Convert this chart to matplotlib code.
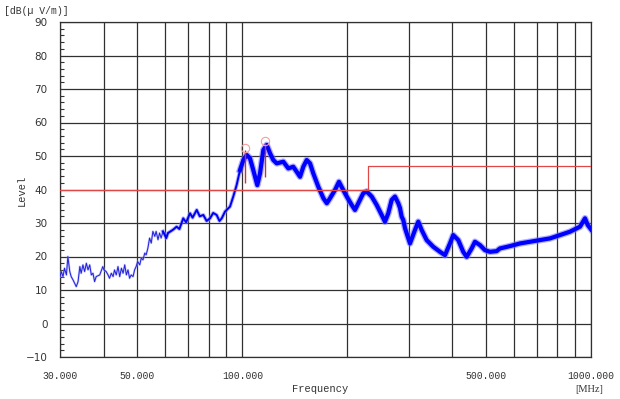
import numpy as np
import matplotlib
matplotlib.use("Agg")
import matplotlib.pyplot as plt

freq = [30.0, 30.26, 30.6, 30.9, 31.3, 31.6, 32.0, 32.3, 32.7, 33.4, 33.8, 34.2,
        34.5, 34.9, 35.3, 35.7, 36.1, 36.5, 36.9, 37.3, 37.7, 38.1, 39.0, 39.8,
        40.1, 40.7, 41.2, 41.6, 42.1, 42.6, 43.0, 43.5, 44.0, 44.5, 45.0, 45.5,
        46.0, 46.5, 47.0, 47.5, 48.0, 48.6, 49.1, 49.6, 50.1, 50.8, 51.3, 51.9,
        52.5, 53.0, 53.6, 54.2, 54.8, 55.4, 56.1, 56.6, 57.3, 57.9, 58.5, 59.2,
        59.9, 60.5, 61.2, 63.3, 64.8, 66.0, 67.7, 69.0, 70.8, 72.0, 74.0, 75.5,
        77.3, 79.0, 80.8, 82.5, 84.4, 86.0, 87.3, 89.2, 92.2, 94.2, 96.3, 98.5,
        100.7, 103.0, 105.2, 107.5, 110.4,
        112.4, 114.9, 117.5, 120.1, 122.7, 125.5, 131.1, 135.5, 140.0, 143.2,
        146.4, 149.6, 153.0, 156.4, 159.8, 165.2, 170.8, 174.7, 178.5, 184.5,
        189.3, 193.5, 199.3, 205.9, 210.4, 215.1, 222.3, 227.3, 235.0, 242.8,
        251.0, 256.5, 262.2, 268.1, 274.0, 280.1, 283.2, 286.4, 289.5, 292.8,
        296.1, 302.6, 312.7, 319.6, 326.9, 337.8, 352.9, 368.9, 381.3, 394.0,
        402.6, 416.2, 430.1, 440.0, 454.7, 464.7, 480.4, 496.4, 513.0, 536.3,
        548.0, 585.5, 625.7, 668.4, 714.0, 762.9, 815.0, 870.2, 930.0, 961.2,
        978.5, 1000.0]
level = [14.0, 15.5, 14.0, 16.5, 14.5, 20.0, 15.5, 14.0, 13.0, 11.0, 12.5, 17.0,
         15.0, 17.5, 15.5, 18.0, 16.0, 17.5, 14.5, 15.0, 12.5, 14.0, 14.5, 17.0,
         16.0, 15.5, 14.5, 13.5, 15.0, 14.0, 16.0, 14.5, 17.0, 14.0, 16.5, 15.0,
         17.5, 14.5, 16.0, 13.5, 14.5, 14.0, 16.0, 17.0, 18.5, 17.5, 19.5, 19.0,
         21.0, 20.5, 22.5, 25.5, 24.0, 27.5, 26.0, 27.5, 25.0, 27.0, 25.5, 27.5,
         26.5, 25.5, 27.0, 28.0, 28.9, 28.2, 31.4, 30.2, 32.9, 31.6, 33.9, 32.0,
         32.4, 30.6, 31.4, 33.0, 32.4, 30.6, 31.4, 33.4, 34.9, 37.9, 41.3, 45.8,
         48.8, 50.3, 49.3, 45.8, 41.3,
         44.8, 51.8, 53.3, 50.8, 48.8, 47.8, 48.3, 46.3, 46.8, 45.3,
         43.8, 46.8, 48.8, 47.8, 44.8, 40.8, 37.4, 35.9, 37.4, 39.9,
         42.3, 40.4, 37.9, 35.4, 33.9, 35.9, 38.9, 39.4, 37.9, 35.4,
         32.4, 30.4, 32.9, 36.9, 37.9, 35.9, 34.5, 31.9, 30.9, 28.5,
         26.9, 23.9, 27.9, 30.4, 27.9, 24.9, 22.9, 21.4, 20.4, 23.9,
         26.4, 24.9, 21.4, 19.9, 22.4, 24.4, 23.4, 21.9, 21.4, 21.6,
         22.4, 23.1, 23.9, 24.4, 24.9, 25.4, 26.4, 27.4, 28.9, 31.4,
         29.4, 28.1]

# limit line
lim_freq = [30, 230, 230, 1000]
lim_level = [40, 40, 47, 47]

# peak markers
mark_freq = [102.0, 116.4]
mark_top = [51.8, 53.9]
mark_bottom = [41.9, 43.7]

x_grid = [30, 40, 50, 60, 70, 80, 90, 100, 200, 300, 400, 500, 600, 700, 800, 900, 1000]
x_labels = {30: "30.000", 50: "50.000", 100: "100.000", 500: "500.000", 1000: "1000.000"}

fig = plt.figure(figsize=(6.2, 3.99), dpi=100)
ax = fig.add_axes([60/620, 1-357/399, 531/620, 335/399])

f = np.array(freq)
lv = np.array(level)

lo = f <= 61.2
mid = (f >= 59.2) & (f <= 100.7)
hi = f >= 98.5

ax.plot(f[lo], lv[lo], color="#a0a0ff", lw=1.6, alpha=0.6, zorder=3)
ax.plot(f[lo], lv[lo], color="#2020d8", lw=0.7, zorder=4)
ax.plot(f[mid], lv[mid], color="#8080ff", lw=2.8, alpha=0.6, zorder=3)
ax.plot(f[mid], lv[mid], color="#0000f0", lw=1.4, zorder=4)
ax.plot(f[hi], lv[hi], color="#7070ff", lw=4.8, alpha=0.55, zorder=3)
ax.plot(f[hi], lv[hi], color="#0000ff", lw=3.0, zorder=4)

ax.plot(lim_freq, lim_level, color="#e04848", lw=0.9, zorder=5)
ax.vlines(mark_freq, mark_bottom, mark_top, color="#d03030", lw=1.0, zorder=6)
ax.plot(mark_freq, [t + 0.6 for t in mark_top], "o", mfc="none", mec="#f0a0a0",
        ms=6, mew=0.8, zorder=6)

ax.set_xscale("log")
ax.set_xlim(30, 1000)
ax.set_ylim(-10, 90)

ax.set_xticks(x_grid)
ax.set_xticklabels([x_labels.get(v, "") for v in x_grid], family="Liberation Mono", fontsize=7)
ax.xaxis.set_minor_locator(matplotlib.ticker.NullLocator())
ax.set_yticks(range(-10, 91, 10))
ax.set_yticks(range(-10, 91, 2), minor=True)
ax.tick_params(axis="x", length=0, pad=10)
ax.tick_params(axis="y", which="major", length=0, pad=9, labelsize=7.5)
ax.tick_params(axis="y", which="minor", direction="in", length=3, width=0.8, color="#333333")
for t in ax.get_yticklabels():
    t.set_color("#333333")
for t in ax.get_xticklabels():
    t.set_color("#333333")

ax.grid(True, which="major", color="#303030", lw=0.9)
for s in ax.spines.values():
    s.set_color("#303030")
    s.set_linewidth(0.9)

fig.text(4/620, 1-11/399, "[dB(\u00b5 V/m)]", family="Liberation Mono", fontsize=7,
         va="center", ha="left", color="#333333")
fig.text(22/620, 1-190/399, "Level", family="Liberation Mono", fontsize=7.5,
         rotation=90, va="center", ha="center", color="#333333")
fig.text(320/620, 1-389/399, "Frequency", family="Liberation Mono", fontsize=7.5,
         va="center", ha="center", color="#333333")
fig.text(589/620, 1-389/399, "[MHz]", family="Liberation Serif", fontsize=7.5,
         va="center", ha="center", color="#333333")

fig.savefig("out.png", dpi=100)
